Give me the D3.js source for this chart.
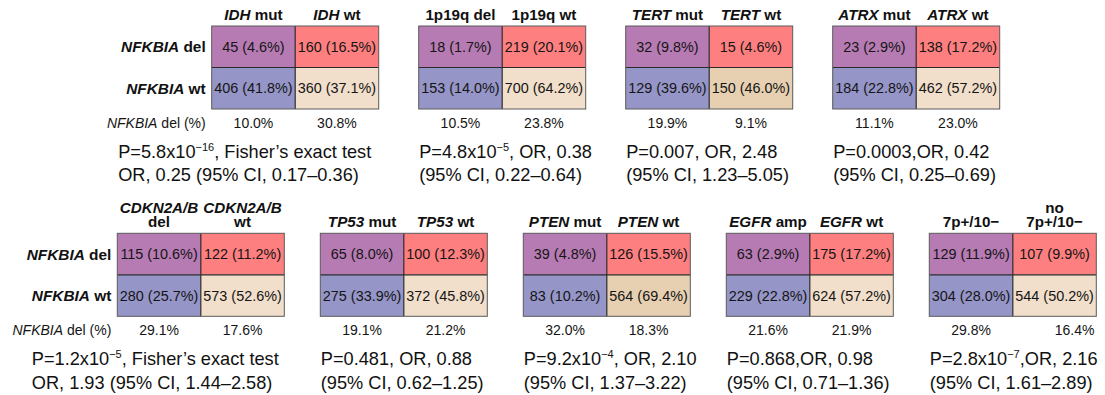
<!DOCTYPE html>
<html>
<head>
<meta charset="utf-8">
<script src="https://cdn.jsdelivr.net/npm/d3@7"></script>
<style>
  html, body { margin: 0; padding: 0; background: #fff; }
  svg { display: block; font-family: "Liberation Sans", Arial, Helvetica, sans-serif; }
</style>
</head>
<body>
<svg id="chart" width="1105" height="395"></svg>
<script>
// 2x2 contingency tables: NFKBIA deletion vs. other glioma alterations
const alterations = ["IDH", "1p19q", "TERT", "ATRX", "CDKN2A/B", "TP53", "PTEN", "EGFR", "7p10"];
const altHeader = ["*IDH* mut", "1p19q del", "*TERT* mut", "*ATRX* mut", "*CDKN2A/B*\ndel",
                   "*TP53* mut", "*PTEN* mut", "*EGFR* amp", "7p+/10−"];
const wtHeader  = ["*IDH* wt", "1p19q wt", "*TERT* wt", "*ATRX* wt", "*CDKN2A/B*\nwt",
                   "*TP53* wt", "*PTEN* wt", "*EGFR* wt", "no\n7p+/10−"];

// cell counts and percentages of total
const delAlt    = [45, 18, 32, 23, 115, 65, 39, 63, 129];
const delAltPct = ["4.6", "1.7", "9.8", "2.9", "10.6", "8.0", "4.8", "2.9", "11.9"];
const delWt     = [160, 219, 15, 138, 122, 100, 126, 175, 107];
const delWtPct  = ["16.5", "20.1", "4.6", "17.2", "11.2", "12.3", "15.5", "17.2", "9.9"];
const wtAlt     = [406, 153, 129, 184, 280, 275, 83, 229, 304];
const wtAltPct  = ["41.8", "14.0", "39.6", "22.8", "25.7", "33.9", "10.2", "22.8", "28.0"];
const wtWt      = [360, 700, 150, 462, 573, 372, 564, 624, 544];
const wtWtPct   = ["37.1", "64.2", "46.0", "57.2", "52.6", "45.8", "69.4", "57.2", "50.2"];

// NFKBIA deletion rate within each column
const delRateAlt = ["10.0", "10.5", "19.9", "11.1", "29.1", "19.1", "32.0", "21.6", "29.8"];
const delRateWt  = ["30.8", "23.8", "9.1", "23.0", "17.6", "21.2", "18.3", "21.9", "16.4"];

// test statistics
const pBase     = ["5.8x10", "4.8x10", "0.007", "0.0003", "1.2x10", "0.481", "9.2x10", "0.868", "2.8x10"];
const pExp      = ["−16", "−5", "", "", "−5", "", "−4", "", "−7"];
const oddsRatio = ["0.25", "0.38", "2.48", "0.42", "1.93", "0.88", "2.10", "0.98", "2.16"];
const ciLow     = ["0.17", "0.22", "1.23", "0.25", "1.44", "0.62", "1.37", "0.71", "1.61"];
const ciHigh    = ["0.36", "0.64", "5.05", "0.69", "2.58", "1.25", "3.22", "1.36", "2.89"];
const testNote  = ["Fisher’s exact test", "", "", "", "Fisher’s exact test", "", "", "", ""];
const tightComma = [false, false, false, true, false, false, false, true, true];

const rowLabels = ["del", "wt"];

// ---- layout ----
const gridW = 167, gridH = 83;
const topRow = d3.scalePoint().domain(d3.range(4)).range([211.7, 832.7]);
const botRow = d3.scalePoint().domain(d3.range(4, 9)).range([117.3, 929.3]);
const rowTop = [26, 233.3];
const fills = {
  delAlt: "#b77bb4",
  delWt: "#fe7f7f",
  wtAlt: "#9595c8",
  wtWt: "#f1dfcb",
  wtWtStrong: "#e7d0b1"
};
const strongPeach = new Set(["TERT", "PTEN"]);
const pctNudge = { "7p10": 20 };
// the long two-line statistics blocks start left of their table
const statsShift = { "IDH": -94, "CDKN2A/B": -86 };
const headerLineGap = 14;

const svg = d3.select("#chart");

// Writes "*italic* plain" markup into a text element as tspans
function richText(sel, str, firstAttrs) {
  const parts = str.split("*");
  let first = true;
  parts.forEach((p, k) => {
    if (!p) return;
    const ts = sel.append("tspan").attr("font-style", k % 2 === 1 ? "italic" : "normal").text(p);
    if (first && firstAttrs) Object.entries(firstAttrs).forEach(([a, v]) => ts.attr(a, v));
    first = false;
  });
}

alterations.forEach((key, i) => {
  const isTop = i < 4;
  const left = isTop ? topRow(i) : botRow(i);
  const top = isTop ? rowTop[0] : rowTop[1];
  const x = d3.scaleBand().domain(["alt", "wt"]).range([left, left + gridW]);
  const y = d3.scaleBand().domain(rowLabels).range([top, top + gridH]);
  const g = svg.append("g");

  const cells = [
    { col: "alt", row: "del", n: delAlt[i], pct: delAltPct[i], fill: fills.delAlt },
    { col: "wt",  row: "del", n: delWt[i],  pct: delWtPct[i],  fill: fills.delWt },
    { col: "alt", row: "wt",  n: wtAlt[i],  pct: wtAltPct[i],  fill: fills.wtAlt },
    { col: "wt",  row: "wt",  n: wtWt[i],   pct: wtWtPct[i],
      fill: strongPeach.has(key) ? fills.wtWtStrong : fills.wtWt }
  ];

  g.selectAll("rect.cell").data(cells).join("rect")
    .attr("class", "cell")
    .attr("x", d => x(d.col)).attr("y", d => y(d.row))
    .attr("width", x.bandwidth()).attr("height", y.bandwidth())
    .attr("fill", d => d.fill);

  // inner dividers and frame
  g.append("line")
    .attr("x1", x("wt")).attr("x2", x("wt"))
    .attr("y1", top).attr("y2", top + gridH)
    .attr("stroke", "#2a2a2a").attr("stroke-width", 1.2);
  g.append("line")
    .attr("x1", left).attr("x2", left + gridW)
    .attr("y1", y("wt")).attr("y2", y("wt"))
    .attr("stroke", "#2a2a2a").attr("stroke-width", 1.2);
  g.append("rect")
    .attr("x", left).attr("y", top).attr("width", gridW).attr("height", gridH)
    .attr("fill", "none").attr("stroke", "#5a5a5a").attr("stroke-width", 1);

  g.selectAll("text.cell").data(cells).join("text")
    .attr("class", "cell")
    .attr("x", d => x(d.col) + x.bandwidth() / 2)
    .attr("y", d => y(d.row) + y.bandwidth() / 2 + 5.2)
    .attr("text-anchor", "middle")
    .attr("font-size", 14.4).attr("fill", "#151515")
    .text(d => `${d.n} (${d.pct}%)`);

  // column headers (stacked lines share one text element)
  [["alt", altHeader[i]], ["wt", wtHeader[i]]].forEach(([col, label]) => {
    const lines = label.split("\n");
    const cx = x(col) + x.bandwidth() / 2;
    const t = g.append("text")
      .attr("x", cx)
      .attr("y", top - 6 - (lines.length - 1) * headerLineGap)
      .attr("text-anchor", "middle")
      .attr("font-size", 15.2).attr("font-weight", "bold").attr("fill", "#111");
    lines.forEach((ln, k) => {
      richText(t, ln, k > 0 ? { x: cx, dy: headerLineGap } : null);
    });
  });

  // deletion rate per column
  const rate = [["alt", delRateAlt[i], 0], ["wt", delRateWt[i], pctNudge[key] || 0]];
  rate.forEach(([col, v, dx]) => {
    g.append("text")
      .attr("x", x(col) + x.bandwidth() / 2 + dx)
      .attr("y", top + gridH + 18.8)
      .attr("text-anchor", "middle")
      .attr("font-size", 14).attr("fill", "#151515")
      .text(`${v}%`);
  });

  // row labels on the first table of each row
  if (i === 0 || i === 4) {
    rowLabels.forEach(r => {
      const t = g.append("text")
        .attr("x", left - 6)
        .attr("y", y(r) + y.bandwidth() / 2 + 5.5)
        .attr("text-anchor", "end")
        .attr("font-size", 15.4).attr("font-weight", "bold").attr("fill", "#111");
      richText(t, `*NFKBIA* ${r}`);
    });
    const t = g.append("text")
      .attr("x", left - 6)
      .attr("y", top + gridH + 18.8)
      .attr("text-anchor", "end")
      .attr("font-size", 14).attr("fill", "#151515");
    richText(t, "*NFKBIA* del (%)");
  }

  // statistics
  const base = top + gridH + 49;
  const sx = left + 0.5 + (statsShift[key] || 0);
  const l1 = g.append("text").attr("x", sx).attr("y", base)
    .attr("font-size", 18.2).attr("fill", "#111");
  l1.append("tspan").text(`P=${pBase[i]}`);
  let restDy = 0;
  if (pExp[i]) {
    l1.append("tspan").attr("font-size", 11).attr("dy", -7).text(pExp[i]);
    restDy = 7;
  }
  const sep = tightComma[i] ? "," : ", ";
  const rest = testNote[i] ? `${sep}${testNote[i]}` : `${sep}OR, ${oddsRatio[i]}`;
  l1.append("tspan").attr("dy", restDy).text(rest);
  const l2 = g.append("text").attr("x", sx).attr("y", base + 23.4)
    .attr("font-size", 18.2).attr("fill", "#111");
  l2.text(testNote[i]
    ? `OR, ${oddsRatio[i]} (95% CI, ${ciLow[i]}–${ciHigh[i]})`
    : `(95% CI, ${ciLow[i]}–${ciHigh[i]})`);
});
</script>
</body>
</html>
